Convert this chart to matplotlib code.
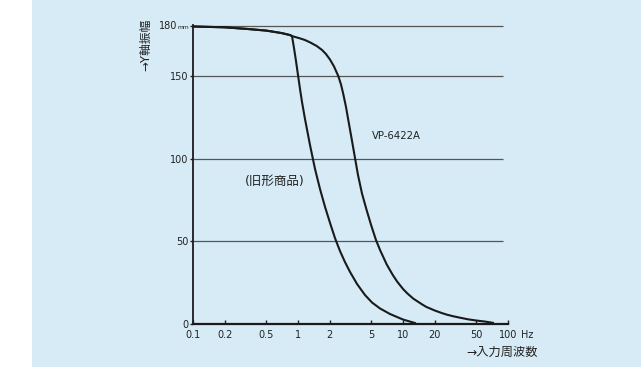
import matplotlib
matplotlib.use("Agg")
import matplotlib.pyplot as plt
from matplotlib.patches import Rectangle

plt.rcParams['font.family'] = ['DejaVu Sans', 'Noto Sans CJK JP']

# frequency (Hz) / Y amplitude (mm)
f_old = [0.1, 0.2, 0.33, 0.5, 0.7, 0.84, 0.877, 0.916, 0.957, 1.0, 1.045, 1.092, 1.166,
         1.301, 1.452, 1.62, 1.81, 2.02, 2.25, 2.51, 2.80, 3.13, 3.65, 4.35, 5.07, 6.04,
         7.52, 10, 13]
a_old = [180, 179.5, 178.5, 177.5, 176, 174.8, 174.2, 167.0, 159.1, 150.6, 142.2, 134.3, 124.0,
         108.3, 93.8, 81.7, 70.8, 61.1, 52.0, 44.2, 37.5, 31.5, 24.2, 17.5, 13.0, 9.4,
         6.05, 2.7, 0.6]

f_new = [0.1, 0.2, 0.33, 0.5, 0.7, 0.84, 0.877, 1.045, 1.166, 1.301, 1.507, 1.693, 1.848,
         2.017, 2.203, 2.42, 2.568, 2.70, 2.865, 3.013, 3.246, 3.491, 3.728, 4.07, 4.50,
         5.00, 5.53, 6.04, 7.0, 8.0, 8.79, 10, 11, 12.5, 15, 16.6, 20, 23, 26, 30, 35,
         41.9, 50, 60, 71.9]
a_new = [180, 179.5, 178.5, 177.5, 176, 174.8, 174.2, 172.8, 171.8, 170.4, 168.2, 165.8, 163.3,
         160.0, 155.8, 150.0, 144.9, 139.1, 131.3, 123.4, 111.9, 100.4, 90.1, 78.9, 69.0,
         59.3, 50.8, 44.8, 36.0, 29.6, 25.7, 21.2, 18.5, 15.4, 12.1, 10.4, 8.2, 6.8, 5.7, 4.7, 3.8,
         2.8, 2.1, 1.5, 0.7]

x_ticks = [0.1, 0.2, 0.5, 1, 2, 5, 10, 20, 50, 100]
x_labels = ["0.1", "0.2", "0.5", "1", "2", "5", "10", "20", "50", "100"]
y_ticks = [0, 50, 100, 150, 180]
y_labels = ["0", "50", "100", "150", ""]
grid_y = [50, 100, 150, 180]

bg = '#d6ebf6'
ink = '#222222'
fig = plt.figure(figsize=(6.41, 3.67), dpi=100, facecolor=bg)
fig.patches.append(Rectangle((0, 0), 32 / 641, 1, transform=fig.transFigure,
                             facecolor='white', edgecolor='none', zorder=0))
ax = fig.add_axes([193 / 641, 1 - 324 / 367, 315 / 641, 299.5 / 367])
ax.set_facecolor('none')

ax.set_xscale('log')
ax.set_xlim(0.1, 100)
ax.set_ylim(0, 181.2)

ax.hlines(grid_y, 0.1, 90, colors='#555555', lw=0.9, zorder=1)

ax.plot(f_old, a_old, color='#1a1a1a', lw=1.5, zorder=3, solid_joinstyle='round')
ax.plot(f_new, a_new, color='#1a1a1a', lw=1.5, zorder=3, solid_joinstyle='round')

for s in ['top', 'right']:
    ax.spines[s].set_visible(False)
ax.spines['left'].set_linewidth(1.3)
ax.spines['bottom'].set_linewidth(1.6)
ax.spines['left'].set_color('#1a1a1a')
ax.spines['bottom'].set_color('#1a1a1a')

ax.set_xticks(x_ticks)
ax.set_xticklabels(x_labels)
ax.minorticks_off()
ax.set_yticks(y_ticks)
ax.set_yticklabels(y_labels)
ax.tick_params(axis='x', direction='in', length=3, width=1, pad=4, labelsize=7, colors=ink)
ax.tick_params(axis='y', direction='out', length=2.5, width=1, pad=1, labelsize=7, colors=ink)

ax.annotate("180", xy=(0, 180), xycoords=('axes fraction', 'data'), xytext=(-11.5, 0),
            textcoords='offset points', ha='right', va='center', fontsize=7, color=ink)
ax.annotate("mm", xy=(0, 180), xycoords=('axes fraction', 'data'), xytext=(-2.8, -0.5),
            textcoords='offset points', ha='right', va='center', fontsize=4.3, color=ink)

ax.annotate("Hz", xy=(1, 0), xycoords='axes fraction', xytext=(9.4, -8.2),
            textcoords='offset points', ha='left', va='center', fontsize=7, color=ink)
ax.annotate("→入力周波数", xy=(1, 0), xycoords='axes fraction', xytext=(21.6, -20.5),
            textcoords='offset points', ha='right', va='center', fontsize=8.8, color=ink)
fig.text(146 / 641, 1 - 45 / 367, "→Y軸振幅", rotation=90, ha='center', va='center',
         fontsize=8.5, color=ink)

ax.text(5.1, 114, "VP-6422A", ha='left', va='center', fontsize=7.3, color=ink)
ax.text(0.31, 86, "(旧形商品)", ha='left', va='center', fontsize=9, color=ink)

fig.savefig("out.png", dpi=100, facecolor=bg)
